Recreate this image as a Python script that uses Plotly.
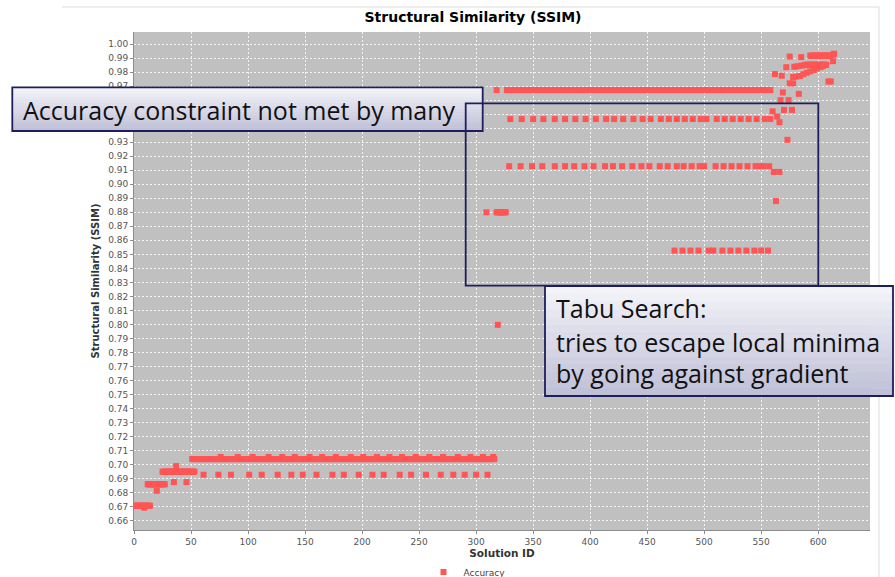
import plotly.graph_objects as go

# ---------------------------------------------------------------- data --
# Consecutive blocks of solution IDs that share one SSIM value
block_start = [0, 12, 25, 51, 318, 327, 589, 593]
block_end = [14, 27, 53, 316, 326, 558, 607, 611]
block_ssim = [0.6707, 0.6860, 0.6950, 0.7040, 0.8800, 0.9672, 0.9852, 0.9917]

# Sparse rows: solution IDs that land on a recurring SSIM level
row_6928_ids = [61, 74, 85, 101, 112, 126, 138, 148, 160, 174, 184, 197, 209,
                219, 233, 243, 256, 269, 280, 290, 300, 310]
row_7055_ids = [76, 91, 104, 118, 130, 141, 154, 165, 177, 190, 201, 213, 224,
                235, 247, 259, 271, 284, 295, 306, 315]
row_9465_ids = [330, 340, 350, 359, 369, 378, 387, 396, 405, 414, 421, 429, 438,
                446, 453, 462, 469, 476, 483, 490, 497, 502, 511, 518, 525, 532,
                539, 546, 553, 558]
row_9129_ids = [329, 339, 349, 358, 369, 378, 386, 395, 403, 413, 420, 428, 437,
                445, 452, 461, 468, 476, 482, 489, 496, 500, 510, 517, 524, 531,
                538, 545, 549, 552, 557]
row_8527_ids = [474, 481, 488, 495, 504, 508, 516, 523, 530, 537, 544, 550, 556]
row_ids = [row_6928_ids, row_7055_ids, row_9465_ids, row_9129_ids, row_8527_ids]
row_ssim = [0.6928, 0.7055, 0.9465, 0.9129, 0.8527]

# Isolated solutions
single_id = [9, 20, 35, 37, 46,
             309, 318, 319,
             560, 561, 562, 563, 564, 566, 566, 567, 568, 569, 570, 572,
             573, 574, 575, 575, 577, 578, 578, 579, 581, 582, 583, 584,
             585, 585, 587, 588, 590, 593, 596, 599, 602, 604, 609, 611,
             613, 613, 614]
single_ssim = [0.6693, 0.6814, 0.6876, 0.6990, 0.6876,
               0.8800, 0.9672, 0.7997,
               0.9520, 0.9088, 0.9786, 0.8880, 0.9483, 0.9443, 0.9088, 0.9600,
               0.9774, 0.9655, 0.9530, 0.9835, 0.9317, 0.9600, 0.9911, 0.9720,
               0.9530, 0.9720, 0.9765, 0.9838, 0.9768, 0.9842, 0.9645, 0.9772,
               0.9907, 0.9846, 0.9785, 0.9849, 0.9795, 0.9805, 0.9815, 0.9825,
               0.9835, 0.9843, 0.9733, 0.9733, 0.9878, 0.9925, 0.9931]

x_ticks = list(range(0, 601, 50))

# --------------------------------------------------------- assemble -----
pts = []
for s, e, v in zip(block_start, block_end, block_ssim):
    pts += [(i, v) for i in range(s, e + 1)]
for ids, v in zip(row_ids, row_ssim):
    pts += [(i, v) for i in ids]
pts += list(zip(single_id, single_ssim))
pts.sort()
xs = [p[0] for p in pts]
ys = [p[1] for p in pts]

RED = "#FF5555"
NAVY = "#1e1e5c"
TICK_FONT = dict(family="DejaVu Sans", size=9, color="#555555")

fig = go.Figure()
fig.add_trace(go.Scatter(
    x=xs, y=ys, mode="markers", name="Accuracy",
    marker=dict(symbol="square", size=6, color=RED, line=dict(width=0)),
))

# plot area in pixels
PL, PR, PT, PB = 134, 870, 32, 530


def fx(xp):
    return (xp - PL) / (PR - PL)


def fy(yp):
    return (PB - yp) / (PB - PT)


shapes = []


def gradient_box(x0, y0, x1, y1, top="#f3f3f8", bottom="#c0c0d8", n=14):
    """Callout box with a vertical light-to-lavender fade and a navy frame."""
    def mix(c1, c2, t):
        a = [int(c1[i:i + 2], 16) for i in (1, 3, 5)]
        b = [int(c2[i:i + 2], 16) for i in (1, 3, 5)]
        return "rgb(%d,%d,%d)" % tuple(round(a[k] + (b[k] - a[k]) * t) for k in range(3))
    h = (y1 - y0) / n
    for k in range(n):
        shapes.append(dict(type="rect", xref="paper", yref="paper",
                           x0=fx(x0), x1=fx(x1), y0=fy(y0 + k * h), y1=fy(y0 + (k + 1) * h + 0.5),
                           fillcolor=mix(top, bottom, k / (n - 1)), line=dict(width=0),
                           layer="above"))
    shapes.append(dict(type="rect", xref="paper", yref="paper",
                       x0=fx(x0), x1=fx(x1), y0=fy(y0), y1=fy(y1),
                       line=dict(color=NAVY, width=1.8), fillcolor="rgba(0,0,0,0)",
                       layer="above"))


# thin frame lines around the chart image
shapes.append(dict(type="line", xref="paper", yref="paper", x0=fx(62), x1=fx(879),
                   y0=fy(7), y1=fy(7), line=dict(color="#dcdcdc", width=1)))
shapes.append(dict(type="line", xref="paper", yref="paper", x0=fx(879), x1=fx(879),
                   y0=fy(7), y1=fy(577), line=dict(color="#dcdcdc", width=1)))

gradient_box(12.3, 87.3, 482.7, 131)
# region highlighted by the Tabu Search note
shapes.append(dict(type="rect", xref="paper", yref="paper",
                   x0=fx(465.7), x1=fx(818.3), y0=fy(103.3), y1=fy(285.7),
                   line=dict(color=NAVY, width=1.8), fillcolor="rgba(0,0,0,0)",
                   layer="above"))
gradient_box(545, 286, 893, 396)

NOTE_FONT = dict(family="Open Sans", size=25, color="#111111")
annotations = [
    dict(text="Accuracy constraint not met by many", xref="paper", yref="paper",
         x=fx(21), y=fy(110), xanchor="left", yanchor="middle", showarrow=False,
         font=NOTE_FONT),
]
for txt, yc in [("Tabu Search:", 307.6), ("tries to escape local minima", 341.6),
                ("by going against gradient", 372.6)]:
    annotations.append(dict(text=txt, xref="paper", yref="paper", x=fx(554), y=fy(yc),
                            xanchor="left", yanchor="middle", showarrow=False,
                            font=NOTE_FONT))

fig.update_layout(
    width=895, height=577,
    margin=dict(l=PL, r=895 - PR, t=PT, b=577 - PB, autoexpand=False),
    paper_bgcolor="white", plot_bgcolor="#c0c0c0",
    title=dict(text="Structural Similarity (SSIM)", xref="container", yref="container",
               x=473 / 895, y=1 - 17 / 577, xanchor="center", yanchor="middle",
               font=dict(family="DejaVu Sans", size=14, color="#000000", weight="bold")),
    showlegend=True,
    legend=dict(orientation="h", x=fx(467), y=fy(572), xanchor="center", yanchor="middle",
                font=dict(family="DejaVu Sans", size=9, color="#444444"),
                bgcolor="rgba(0,0,0,0)", itemwidth=30),
    shapes=shapes,
    annotations=annotations,
)

GRID = dict(showgrid=True, gridcolor="rgba(255,255,255,0.8)", gridwidth=1,
            griddash="2px,2px", zeroline=False, showline=True, linecolor="#8c8c8c",
            linewidth=1, ticks="outside", ticklen=3, tickcolor="#8c8c8c",
            tickfont=TICK_FONT, automargin=False)

fig.update_xaxes(range=[0, 645.4], tickvals=x_ticks, ticktext=[str(t) for t in x_ticks],
                 title=dict(text="Solution ID", standoff=3,
                            font=dict(family="DejaVu Sans", size=10.5, color="#333333",
                                      weight="bold")),
                 **GRID)
fig.update_yaxes(range=[0.6534, 1.0086], dtick=0.01, tick0=0.66, tickformat=".2f",
                 title=dict(text="Structural Similarity (SSIM)", standoff=6,
                            font=dict(family="DejaVu Sans", size=10, color="#333333",
                                      weight="bold")),
                 **GRID)

fig.write_html("out.html")
